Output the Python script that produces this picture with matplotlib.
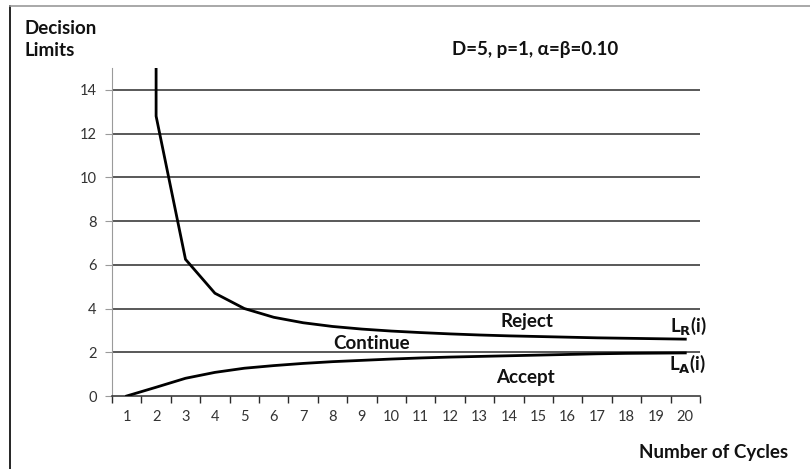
import matplotlib
matplotlib.use("Agg")
import matplotlib.pyplot as plt
from matplotlib.lines import Line2D

plt.rcParams['font.family'] = ['Lato', 'DejaVu Sans']

cycles = list(range(1, 21))
lr_x = [2, 2] + list(range(3, 21))
lr_y = [16.0, 12.8, 6.25, 4.7, 4.0, 3.6, 3.35, 3.18, 3.06, 2.97, 2.9, 2.84,
        2.79, 2.75, 2.72, 2.69, 2.66, 2.64, 2.62, 2.6]
la_x = cycles
la_y = [0.0, 0.4, 0.81, 1.08, 1.27, 1.39, 1.49, 1.57, 1.63, 1.69, 1.74, 1.78,
        1.81, 1.84, 1.87, 1.9, 1.93, 1.95, 1.96, 1.97]
y_ticks = [0, 2, 4, 6, 8, 10, 12, 14]

fig = plt.figure(figsize=(8.1, 4.69), dpi=100)
ax = fig.add_axes([112/810, 1-396/469, (700-112)/810, (396-68)/469])
ax.set_xlim(0.5, 20.5)
ax.set_ylim(0, 15)

for y in y_ticks[1:]:
    ax.axhline(y, color='#2b2b2b', lw=1.1, zorder=1)

ax.plot(lr_x, lr_y, color='black', lw=2, zorder=3, solid_joinstyle='miter')
ax.plot(la_x, la_y, color='black', lw=2, zorder=3)

for s in ['top', 'right']:
    ax.spines[s].set_visible(False)
ax.spines['left'].set_color('#9a9a9a')
ax.spines['bottom'].set_color('#2b2b2b')
ax.spines['bottom'].set_linewidth(1.1)

ax.set_yticks(y_ticks)
ax.tick_params(axis='y', length=5, color='#9a9a9a', labelsize=10.5,
               labelcolor='#333333', pad=6)
ax.set_xticks(cycles)
ax.set_xticks([c - 0.5 for c in cycles] + [20.5], minor=True)
ax.tick_params(axis='x', which='major', length=0, labelsize=10.5,
               labelcolor='#333333', pad=10)
ax.tick_params(axis='x', which='minor', length=5, color='#2b2b2b', width=1)

kw = dict(fontsize=13.5, fontweight='bold', color='#111111')
fig.text(24/810, 1-28/469, 'Decision', va='center', ha='left', **kw)
fig.text(24/810, 1-51/469, 'Limits', va='center', ha='left', **kw)
fig.text(535/810, 1-50/469, 'D=5, p=1, α=β=0.10', va='center', ha='center', **kw)
fig.text(527/810, 1-321/469, 'Reject', va='center', ha='center', **kw)
fig.text(372/810, 1-343/469, 'Continue', va='center', ha='center', **kw)
fig.text(525/810, 1-377/469, 'Accept', va='center', ha='center', **kw)
fig.text(688/810, 1-326/469, r'L$_\mathbf{R}$(i)', va='center', ha='center', **kw)
fig.text(688/810, 1-364/469, r'L$_\mathbf{A}$(i)', va='center', ha='center', **kw)
fig.text(714/810, 1-452/469, 'Number of Cycles', va='center', ha='center', **kw)

fig.add_artist(Line2D([10/810, 10/810], [0, 1-6/469], color='black', lw=1.2,
                      transform=fig.transFigure))
fig.add_artist(Line2D([10/810, 1], [1-6/469, 1-6/469], color='#999999', lw=1.2,
                      transform=fig.transFigure))

fig.savefig('out.png', dpi=100)
